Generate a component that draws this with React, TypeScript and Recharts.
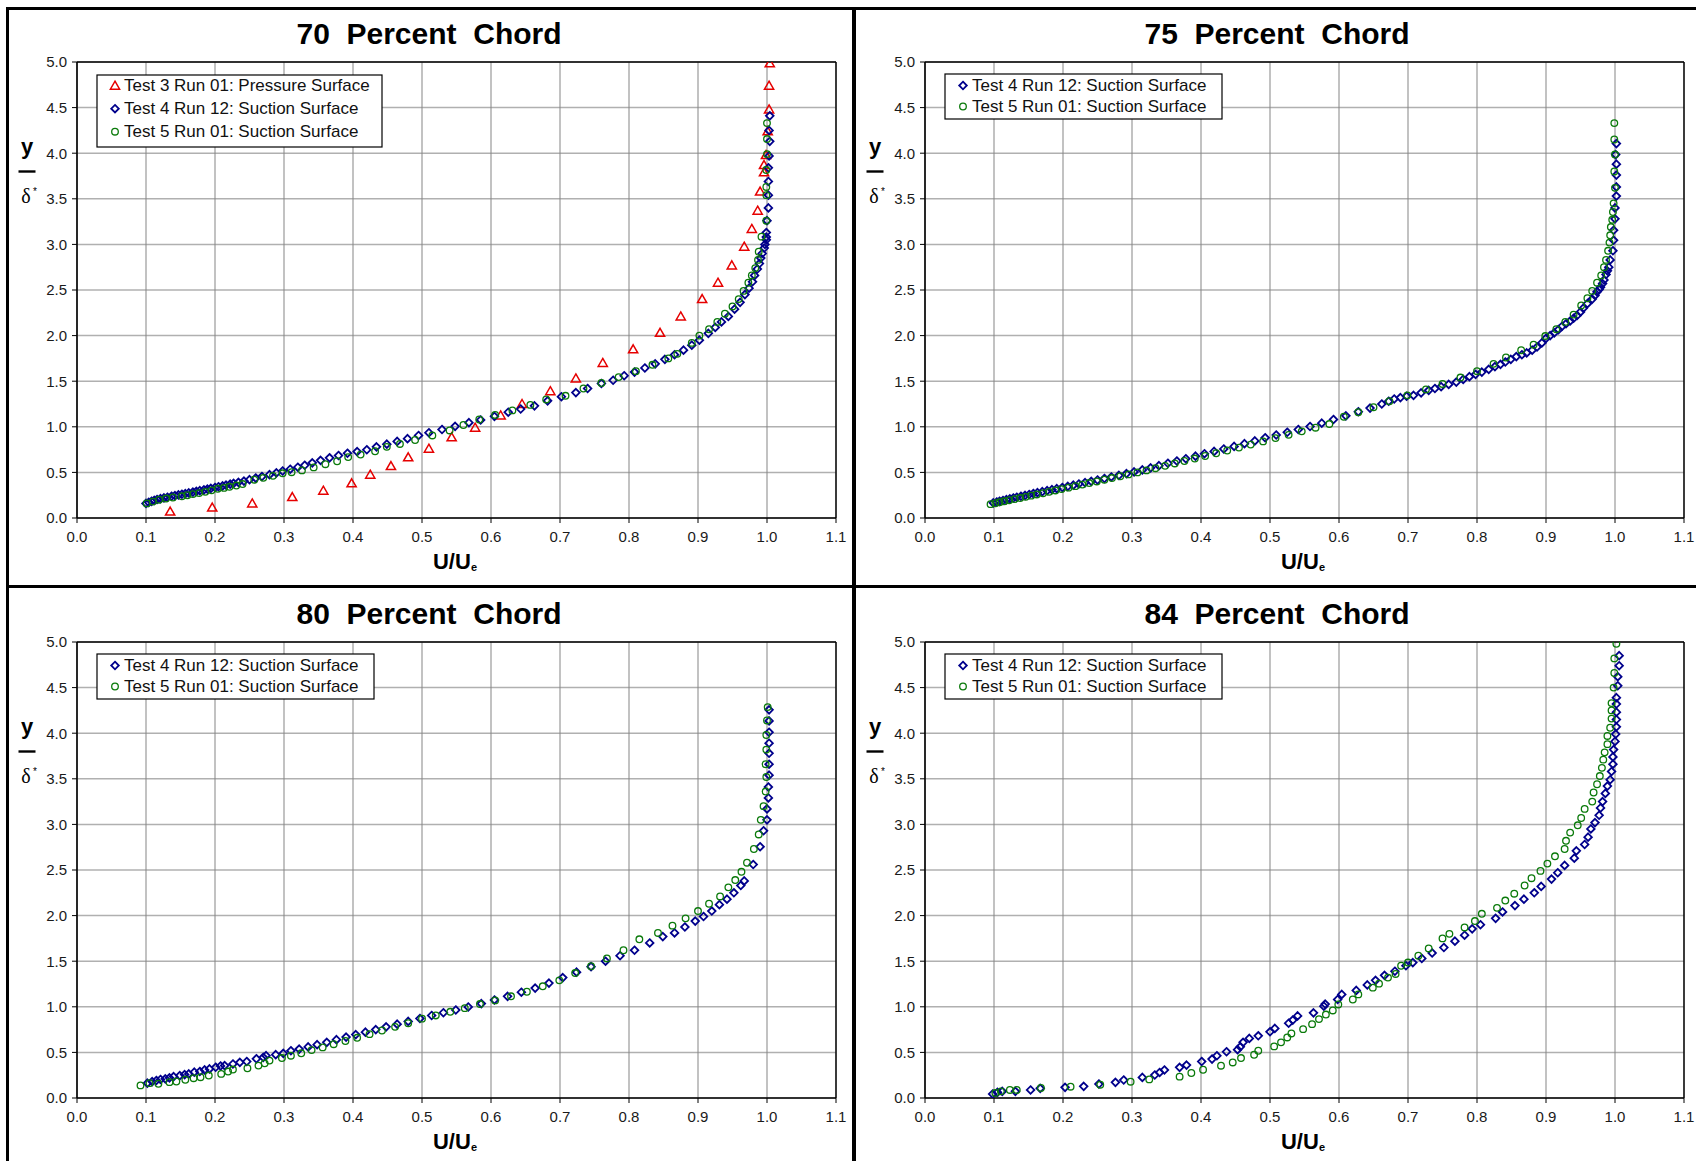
import React from 'react'
import { CartesianGrid, ReferenceLine, Scatter, ScatterChart, XAxis, YAxis } from 'recharts'

// axis ticks and labels
const xTicks = [0, 0.1, 0.2, 0.3, 0.4, 0.5, 0.6, 0.7, 0.8, 0.9, 1.0, 1.1]
const yTicks = [0, 0.5, 1.0, 1.5, 2.0, 2.5, 3.0, 3.5, 4.0, 4.5, 5.0]
const xMinorTicks = Array.from({ length: 56 }, (_, i) => +(i * 0.02).toFixed(2))
const yMinorTicks = Array.from({ length: 51 }, (_, i) => +(i * 0.1).toFixed(1))

const panelTitles = ['70  Percent  Chord', '75  Percent  Chord', '80  Percent  Chord', '84  Percent  Chord']
const test3Name = 'Test 3 Run 01: Pressure Surface'
const test4Name = 'Test 4 Run 12: Suction Surface'
const test5Name = 'Test 5 Run 01: Suction Surface'

// [U/Ue, y/delta*]
const chord70Test3 = [
  [0.135, 0.07], [0.196, 0.115], [0.254, 0.16], [0.312, 0.23], [0.357, 0.3], [0.398, 0.38],
  [0.425, 0.475], [0.455, 0.57], [0.48, 0.665], [0.51, 0.76], [0.543, 0.885], [0.577, 0.99],
  [0.614, 1.125], [0.645, 1.25], [0.686, 1.39], [0.723, 1.53], [0.762, 1.7], [0.806, 1.85],
  [0.845, 2.03], [0.875, 2.21], [0.906, 2.4], [0.929, 2.58], [0.949, 2.77], [0.967, 2.975],
  [0.978, 3.17], [0.9865, 3.37], [0.99, 3.58], [0.9957, 3.79], [0.9957, 3.87], [0.9986, 3.98],
  [1.001, 4.24], [1.003, 4.48], [1.003, 4.74], [1.004, 4.985],
]

const chord70Test4 = [
  [0.1, 0.16], [0.104, 0.172], [0.108, 0.183], [0.112, 0.193], [0.116, 0.203], [0.121, 0.212],
  [0.126, 0.22], [0.131, 0.228], [0.137, 0.238], [0.142, 0.246], [0.147, 0.253], [0.152, 0.26],
  [0.157, 0.267], [0.162, 0.275], [0.168, 0.284], [0.173, 0.292], [0.178, 0.3], [0.184, 0.309],
  [0.189, 0.317], [0.194, 0.325], [0.2, 0.335], [0.205, 0.343], [0.211, 0.352], [0.216, 0.361],
  [0.222, 0.371], [0.227, 0.38], [0.234, 0.391], [0.242, 0.405], [0.25, 0.42], [0.259, 0.438],
  [0.268, 0.455], [0.279, 0.475], [0.289, 0.495], [0.298, 0.515], [0.309, 0.535], [0.32, 0.557],
  [0.33, 0.578], [0.341, 0.605], [0.353, 0.632], [0.366, 0.66], [0.379, 0.685], [0.392, 0.71],
  [0.406, 0.728], [0.42, 0.748], [0.434, 0.78], [0.449, 0.81], [0.464, 0.84], [0.479, 0.87],
  [0.495, 0.905], [0.51, 0.935], [0.529, 0.97], [0.548, 1.005], [0.568, 1.045], [0.585, 1.075],
  [0.605, 1.115], [0.625, 1.16], [0.643, 1.195], [0.663, 1.23], [0.682, 1.285], [0.702, 1.33],
  [0.723, 1.375], [0.74, 1.42], [0.76, 1.475], [0.777, 1.51], [0.793, 1.56], [0.808, 1.6],
  [0.823, 1.645], [0.838, 1.69], [0.852, 1.74], [0.866, 1.79], [0.879, 1.84], [0.891, 1.895],
  [0.902, 1.95], [0.915, 2.025], [0.925, 2.09], [0.934, 2.15], [0.944, 2.21], [0.953, 2.29],
  [0.961, 2.365], [0.968, 2.45], [0.974, 2.52], [0.979, 2.59], [0.982, 2.66], [0.986, 2.73],
  [0.989, 2.79], [0.991, 2.85], [0.993, 2.9], [0.996, 2.96], [0.997, 3.0], [0.999, 3.05],
  [0.999, 3.08], [0.999, 3.13], [1.0, 3.26], [1.002, 3.4], [1.002, 3.54], [1.002, 3.69],
  [1.002, 3.84], [1.003, 3.97], [1.004, 4.13], [1.003, 4.25], [1.004, 4.41],
]

const chord70Test5 = [
  [0.101, 0.16], [0.11, 0.18], [0.119, 0.2], [0.129, 0.213], [0.139, 0.225], [0.152, 0.238],
  [0.16, 0.25], [0.168, 0.262], [0.177, 0.273], [0.186, 0.287], [0.195, 0.303], [0.204, 0.32],
  [0.213, 0.33], [0.221, 0.342], [0.231, 0.356], [0.24, 0.372], [0.257, 0.42], [0.27, 0.44],
  [0.284, 0.462], [0.298, 0.49], [0.311, 0.502], [0.326, 0.522], [0.343, 0.555], [0.36, 0.59],
  [0.377, 0.622], [0.393, 0.668], [0.411, 0.695], [0.432, 0.732], [0.449, 0.78], [0.468, 0.812],
  [0.49, 0.855], [0.515, 0.905], [0.54, 0.96], [0.56, 1.02], [0.583, 1.08], [0.606, 1.13],
  [0.631, 1.18], [0.657, 1.24], [0.68, 1.3], [0.708, 1.34], [0.734, 1.42], [0.76, 1.48],
  [0.785, 1.545], [0.81, 1.61], [0.834, 1.68], [0.857, 1.75], [0.87, 1.8], [0.891, 1.92],
  [0.902, 2.0], [0.916, 2.07], [0.928, 2.15], [0.939, 2.24], [0.95, 2.32], [0.959, 2.4],
  [0.966, 2.49], [0.973, 2.58], [0.978, 2.66], [0.983, 2.74], [0.987, 2.83], [0.988, 2.92],
  [0.992, 3.085], [0.999, 3.26], [0.999, 3.54], [0.999, 3.63], [0.999, 3.815], [1.0, 3.99],
  [1.0, 4.155], [1.0, 4.33],
]

const chord75Test4 = [
  [0.099, 0.166], [0.104, 0.175], [0.108, 0.183], [0.113, 0.192], [0.118, 0.201], [0.123, 0.21],
  [0.128, 0.219], [0.133, 0.228], [0.139, 0.238], [0.145, 0.248], [0.151, 0.258], [0.157, 0.268],
  [0.163, 0.278], [0.17, 0.289], [0.177, 0.3], [0.184, 0.311], [0.191, 0.322], [0.199, 0.334],
  [0.207, 0.347], [0.215, 0.36], [0.223, 0.373], [0.232, 0.388], [0.241, 0.402], [0.25, 0.417],
  [0.26, 0.433], [0.27, 0.45], [0.281, 0.468], [0.292, 0.487], [0.303, 0.505], [0.315, 0.527],
  [0.327, 0.55], [0.339, 0.574], [0.352, 0.6], [0.365, 0.625], [0.378, 0.65], [0.392, 0.678],
  [0.405, 0.705], [0.419, 0.73], [0.433, 0.757], [0.448, 0.785], [0.463, 0.815], [0.478, 0.845],
  [0.493, 0.88], [0.509, 0.91], [0.525, 0.94], [0.541, 0.97], [0.558, 1.003], [0.575, 1.04],
  [0.592, 1.08], [0.61, 1.12], [0.628, 1.165], [0.645, 1.205], [0.662, 1.25], [0.672, 1.28],
  [0.68, 1.305], [0.689, 1.32], [0.698, 1.335], [0.708, 1.345], [0.719, 1.372], [0.73, 1.4],
  [0.739, 1.42], [0.748, 1.44], [0.759, 1.465], [0.77, 1.49], [0.78, 1.52], [0.789, 1.55],
  [0.798, 1.575], [0.807, 1.6], [0.817, 1.63], [0.826, 1.66], [0.834, 1.685], [0.841, 1.71],
  [0.849, 1.74], [0.857, 1.77], [0.865, 1.79], [0.872, 1.81], [0.88, 1.84], [0.887, 1.875],
  [0.894, 1.92], [0.9, 1.97], [0.906, 2.0], [0.912, 2.03], [0.918, 2.065], [0.923, 2.1],
  [0.929, 2.13], [0.935, 2.16], [0.94, 2.19], [0.945, 2.22], [0.95, 2.26], [0.954, 2.3],
  [0.96, 2.35], [0.967, 2.4], [0.971, 2.44], [0.974, 2.48], [0.977, 2.505], [0.979, 2.53],
  [0.982, 2.57], [0.984, 2.61], [0.987, 2.67], [0.989, 2.71], [0.991, 2.75], [0.993, 2.83],
  [0.997, 2.93], [0.998, 3.045], [0.998, 3.155], [1.0, 3.28], [1.0, 3.4], [1.002, 3.53],
  [1.002, 3.63], [1.002, 3.76], [1.002, 3.88], [1.001, 3.985], [1.002, 4.105],
]

const chord75Test5 = [
  [0.095, 0.152], [0.102, 0.162], [0.108, 0.172], [0.115, 0.183], [0.122, 0.195], [0.13, 0.207],
  [0.138, 0.219], [0.146, 0.232], [0.154, 0.245], [0.162, 0.258], [0.171, 0.272], [0.18, 0.287],
  [0.189, 0.302], [0.198, 0.317], [0.208, 0.333], [0.218, 0.349], [0.228, 0.366], [0.238, 0.383],
  [0.249, 0.401], [0.26, 0.42], [0.271, 0.438], [0.283, 0.458], [0.295, 0.478], [0.308, 0.5],
  [0.321, 0.522], [0.334, 0.546], [0.348, 0.572], [0.362, 0.598], [0.376, 0.625], [0.391, 0.652],
  [0.406, 0.68], [0.422, 0.71], [0.438, 0.74], [0.455, 0.772], [0.472, 0.805], [0.49, 0.84],
  [0.508, 0.876], [0.527, 0.912], [0.546, 0.95], [0.566, 0.99], [0.586, 1.03], [0.607, 1.11],
  [0.628, 1.16], [0.65, 1.215], [0.673, 1.28], [0.699, 1.345], [0.726, 1.41], [0.75, 1.47],
  [0.776, 1.54], [0.8, 1.61], [0.824, 1.69], [0.842, 1.76], [0.864, 1.84], [0.882, 1.9],
  [0.899, 1.995], [0.915, 2.07], [0.928, 2.15], [0.94, 2.23], [0.951, 2.33], [0.96, 2.41],
  [0.967, 2.49], [0.974, 2.58], [0.98, 2.66], [0.984, 2.75], [0.987, 2.83], [0.99, 2.93],
  [0.992, 3.02], [0.993, 3.1], [0.994, 3.19], [0.996, 3.27], [0.997, 3.355], [0.998, 3.45],
  [1.0, 3.62], [0.999, 3.8], [1.0, 3.985], [0.999, 4.15], [0.999, 4.33],
]

const chord80Test4 = [
  [0.102, 0.163], [0.109, 0.18], [0.115, 0.192], [0.121, 0.203], [0.128, 0.21], [0.134, 0.221],
  [0.14, 0.235], [0.149, 0.246], [0.156, 0.257], [0.162, 0.264], [0.17, 0.283], [0.178, 0.29],
  [0.185, 0.308], [0.192, 0.319], [0.201, 0.337], [0.208, 0.351], [0.214, 0.355], [0.226, 0.373],
  [0.236, 0.391], [0.246, 0.4], [0.26, 0.43], [0.27, 0.446], [0.274, 0.464], [0.288, 0.475],
  [0.299, 0.49], [0.31, 0.518], [0.322, 0.536], [0.335, 0.56], [0.348, 0.585], [0.362, 0.61],
  [0.376, 0.64], [0.39, 0.668], [0.404, 0.695], [0.418, 0.722], [0.433, 0.75], [0.448, 0.78],
  [0.464, 0.81], [0.48, 0.84], [0.497, 0.872], [0.514, 0.905], [0.531, 0.935], [0.549, 0.965],
  [0.567, 0.998], [0.586, 1.035], [0.605, 1.075], [0.624, 1.115], [0.644, 1.16], [0.664, 1.205],
  [0.684, 1.26], [0.704, 1.32], [0.724, 1.38], [0.745, 1.44], [0.766, 1.5], [0.787, 1.56],
  [0.808, 1.62], [0.83, 1.7], [0.849, 1.77], [0.866, 1.81], [0.881, 1.875], [0.896, 1.94],
  [0.908, 1.99], [0.92, 2.05], [0.931, 2.12], [0.942, 2.18], [0.952, 2.25], [0.962, 2.33],
  [0.967, 2.38], [0.98, 2.56], [0.99, 2.755], [0.995, 2.93], [1.0, 3.05], [1.0, 3.17],
  [1.002, 3.29], [1.002, 3.41], [1.003, 3.54], [1.003, 3.66], [1.003, 3.78], [1.003, 3.89],
  [1.003, 4.01], [1.003, 4.135], [1.003, 4.256],
]

const chord80Test5 = [
  [0.092, 0.138], [0.105, 0.163], [0.118, 0.156], [0.134, 0.174], [0.144, 0.181], [0.157, 0.2],
  [0.169, 0.217], [0.179, 0.228], [0.191, 0.246], [0.209, 0.264], [0.219, 0.29], [0.226, 0.312],
  [0.247, 0.326], [0.263, 0.355], [0.272, 0.38], [0.279, 0.41], [0.297, 0.438], [0.31, 0.464],
  [0.325, 0.49], [0.34, 0.525], [0.356, 0.555], [0.372, 0.59], [0.389, 0.625], [0.406, 0.66],
  [0.424, 0.7], [0.442, 0.74], [0.461, 0.78], [0.48, 0.82], [0.5, 0.87], [0.52, 0.905],
  [0.541, 0.945], [0.562, 0.985], [0.584, 1.03], [0.606, 1.07], [0.629, 1.115], [0.652, 1.165],
  [0.675, 1.225], [0.699, 1.29], [0.722, 1.37], [0.745, 1.445], [0.768, 1.53], [0.792, 1.62],
  [0.815, 1.74], [0.842, 1.81], [0.863, 1.89], [0.882, 1.97], [0.9, 2.05], [0.916, 2.13],
  [0.932, 2.21], [0.944, 2.31], [0.954, 2.39], [0.963, 2.48], [0.971, 2.58], [0.981, 2.73],
  [0.988, 2.89], [0.991, 3.05], [0.995, 3.2], [0.998, 3.36], [0.999, 3.52], [0.998, 3.66],
  [0.999, 3.82], [0.999, 3.98], [1.0, 4.14], [1.001, 4.286],
]

const chord84Test4 = [
  [0.098, 0.044], [0.105, 0.062], [0.112, 0.073], [0.131, 0.073], [0.153, 0.088], [0.167, 0.106],
  [0.203, 0.117], [0.23, 0.128], [0.252, 0.153], [0.276, 0.172], [0.288, 0.197], [0.315, 0.226],
  [0.333, 0.252], [0.34, 0.28], [0.347, 0.307], [0.369, 0.336], [0.379, 0.361], [0.401, 0.4],
  [0.416, 0.427], [0.423, 0.463], [0.437, 0.507], [0.453, 0.53], [0.457, 0.562], [0.461, 0.61],
  [0.47, 0.653], [0.483, 0.682], [0.5, 0.726], [0.507, 0.763], [0.527, 0.82], [0.533, 0.854],
  [0.54, 0.9], [0.563, 0.934], [0.578, 1.007], [0.58, 1.03], [0.598, 1.08], [0.604, 1.136],
  [0.625, 1.18], [0.641, 1.24], [0.653, 1.29], [0.666, 1.345], [0.681, 1.39], [0.697, 1.45],
  [0.707, 1.485], [0.72, 1.53], [0.735, 1.59], [0.752, 1.65], [0.768, 1.72], [0.782, 1.785],
  [0.793, 1.855], [0.805, 1.9], [0.827, 1.97], [0.837, 2.04], [0.855, 2.11], [0.868, 2.18],
  [0.883, 2.25], [0.893, 2.32], [0.908, 2.4], [0.917, 2.47], [0.927, 2.55], [0.941, 2.63],
  [0.944, 2.71], [0.956, 2.78], [0.961, 2.86], [0.965, 2.95], [0.971, 3.02], [0.977, 3.1],
  [0.979, 3.18], [0.982, 3.25], [0.986, 3.34], [0.989, 3.42], [0.993, 3.49], [0.995, 3.58],
  [0.997, 3.66], [0.997, 3.74], [0.998, 3.82], [1.0, 3.91], [1.001, 3.99], [1.002, 4.07],
  [1.002, 4.15], [1.002, 4.23], [1.002, 4.32], [1.002, 4.39], [1.004, 4.52], [1.004, 4.62],
  [1.006, 4.74], [1.006, 4.85],
]

const chord84Test5 = [
  [0.102, 0.055], [0.11, 0.073], [0.123, 0.088], [0.133, 0.088], [0.168, 0.11], [0.211, 0.124],
  [0.254, 0.146], [0.298, 0.179], [0.325, 0.204], [0.369, 0.234], [0.386, 0.274], [0.403, 0.31],
  [0.429, 0.354], [0.446, 0.39], [0.458, 0.438], [0.477, 0.474], [0.483, 0.518], [0.506, 0.566],
  [0.516, 0.61], [0.525, 0.664], [0.531, 0.708], [0.548, 0.755], [0.561, 0.81], [0.571, 0.865],
  [0.581, 0.915], [0.591, 0.96], [0.599, 1.026], [0.62, 1.08], [0.628, 1.136], [0.649, 1.21],
  [0.658, 1.254], [0.671, 1.32], [0.682, 1.36], [0.69, 1.45], [0.7, 1.485], [0.715, 1.56],
  [0.73, 1.64], [0.75, 1.75], [0.76, 1.8], [0.782, 1.87], [0.797, 1.94], [0.807, 2.02],
  [0.829, 2.085], [0.841, 2.165], [0.854, 2.24], [0.869, 2.33], [0.879, 2.41], [0.892, 2.49],
  [0.902, 2.57], [0.913, 2.65], [0.927, 2.73], [0.929, 2.82], [0.935, 2.91], [0.946, 2.99],
  [0.951, 3.07], [0.956, 3.17], [0.967, 3.25], [0.969, 3.35], [0.974, 3.44], [0.978, 3.53],
  [0.981, 3.62], [0.983, 3.71], [0.985, 3.79], [0.989, 3.88], [0.989, 3.97], [0.993, 4.06],
  [0.995, 4.16], [0.995, 4.25], [0.995, 4.33], [0.998, 4.5], [0.999, 4.66], [0.999, 4.82],
  [1.002, 4.98],
]

type Kind = 'triangle' | 'diamond' | 'circle'
interface SeriesDef {
  name: string
  kind: Kind
  points: number[][]
}

const COLORS: Record<Kind, string> = { triangle: '#e60000', diamond: '#00008c', circle: '#0a7a0a' }
const SANS = '"Liberation Sans", Arial, Helvetica, sans-serif'
const SERIF = '"Liberation Serif", "DejaVu Serif", serif'

const Marker = ({ kind, cx, cy }: { kind: Kind; cx: number; cy: number }) => {
  if (kind === 'triangle') {
    return (
      <path
        d={`M${cx},${cy - 4.5}L${cx + 4.6},${cy + 3.5}L${cx - 4.6},${cy + 3.5}Z`}
        fill='none'
        stroke={COLORS.triangle}
        strokeWidth={1.5}
      />
    )
  }
  if (kind === 'diamond') {
    return (
      <path
        d={`M${cx},${cy - 3.8}L${cx + 3.8},${cy}L${cx},${cy + 3.8}L${cx - 3.8},${cy}Z`}
        fill='none'
        stroke={COLORS.diamond}
        strokeWidth={1.8}
      />
    )
  }
  return <circle cx={cx} cy={cy} r={3.3} fill='none' stroke={COLORS.circle} strokeWidth={1.3} />
}

const fmt = (v: number) => v.toFixed(1)

const W = 848
const H = 580

interface PanelProps {
  title: string
  series: SeriesDef[]
  left: number
  top: number
}

const Panel: React.FC<PanelProps> = ({ title, series, left, top }) => {
  const big = series.length === 3
  const legend = big
    ? { top: 75, w: 285, h: 72, first: 15.7, rowH: 23 }
    : { top: 74, w: 277, h: 45, first: 16.5, rowH: 21 }
  return (
    <div style={{ position: 'absolute', left, top, width: W, height: H }}>
      <ScatterChart width={W} height={H} margin={{ top: 62, right: 12, bottom: 32, left: 32 }}>
        <CartesianGrid vertical={false} stroke='#b0b0b0' strokeWidth={1.5} />
        <CartesianGrid horizontal={false} stroke='#858585' strokeWidth={1} />
        <XAxis
          type='number'
          dataKey='x'
          domain={[0, 1.1]}
          ticks={xTicks}
          interval={0}
          allowDataOverflow
          height={30}
          tickSize={5}
          tickMargin={8}
          tickFormatter={fmt}
          axisLine={{ stroke: '#000', strokeWidth: 1.6 }}
          tickLine={{ stroke: '#000' }}
          tick={{ fill: '#1a1a1a', fontSize: 15 }}
        />
        <XAxis
          xAxisId='minor'
          type='number'
          domain={[0, 1.1]}
          ticks={xMinorTicks}
          interval={0}
          allowDataOverflow
          mirror
          height={1}
          tick={false}
          tickSize={3}
          axisLine={false}
          tickLine={{ stroke: '#000' }}
        />
        <YAxis
          type='number'
          dataKey='y'
          domain={[0, 5]}
          ticks={yTicks}
          interval={0}
          allowDataOverflow
          width={45}
          tickSize={5}
          tickMargin={5}
          tickFormatter={fmt}
          axisLine={{ stroke: '#000', strokeWidth: 1.6 }}
          tickLine={{ stroke: '#000' }}
          tick={{ fill: '#1a1a1a', fontSize: 15 }}
        />
        <YAxis
          yAxisId='minor'
          type='number'
          domain={[0, 5]}
          ticks={yMinorTicks}
          interval={0}
          allowDataOverflow
          mirror
          width={1}
          tick={false}
          tickSize={3}
          axisLine={false}
          tickLine={{ stroke: '#000' }}
        />
        <ReferenceLine y={5} stroke='#000' strokeWidth={1.4} />
        <ReferenceLine x={1.1} stroke='#000' strokeWidth={1.4} />
        {series.map((s) => (
          <Scatter
            key={s.name}
            name={s.name}
            data={s.points.map(([x, y]) => ({ x, y }))}
            isAnimationActive={false}
            shape={(p: any) => <Marker kind={s.kind} cx={p.cx} cy={p.cy} />}
          />
        ))}
      </ScatterChart>
      <svg
        width={W}
        height={H}
        style={{ position: 'absolute', left: 0, top: 0, pointerEvents: 'none', fontFamily: SANS }}
      >
        <text x={429} y={44} textAnchor='middle' fontSize={30} fontWeight='bold' style={{ whiteSpace: 'pre' }}>
          {title}
        </text>
        <text x={455} y={569} textAnchor='middle' fontSize={22} fontWeight='bold'>
          U/U
          <tspan fontSize={11} dy={2}>
            e
          </tspan>
        </text>
        <text x={27} y={154} textAnchor='middle' fontSize={22} fontWeight='bold'>
          y
        </text>
        <line x1={18.5} x2={35.5} y1={171.5} y2={171.5} stroke='#000' strokeWidth={2.4} />
        <text x={26} y={203} textAnchor='middle' fontSize={20} fontFamily={SERIF}>
          δ
        </text>
        <text x={33} y={195} fontSize={10}>
          *
        </text>
        <g transform={`translate(97, ${legend.top})`}>
          <rect x={0} y={0} width={legend.w} height={legend.h} fill='#fff' stroke='#000' strokeWidth={1.2} />
          {series.map((s, i) => (
            <g key={s.name}>
              <Marker kind={s.kind} cx={18} cy={legend.first + i * legend.rowH - 5} />
              <text x={27} y={legend.first + i * legend.rowH} fontSize={17} fill='#111'>
                {s.name}
              </text>
            </g>
          ))}
        </g>
      </svg>
    </div>
  )
}

const panels: { title: string; series: SeriesDef[]; left: number; top: number }[] = [
  {
    title: panelTitles[0],
    left: 0,
    top: 0,
    series: [
      { name: test3Name, kind: 'triangle', points: chord70Test3 },
      { name: test4Name, kind: 'diamond', points: chord70Test4 },
      { name: test5Name, kind: 'circle', points: chord70Test5 },
    ],
  },
  {
    title: panelTitles[1],
    left: 848,
    top: 0,
    series: [
      { name: test4Name, kind: 'diamond', points: chord75Test4 },
      { name: test5Name, kind: 'circle', points: chord75Test5 },
    ],
  },
  {
    title: panelTitles[2],
    left: 0,
    top: 580,
    series: [
      { name: test4Name, kind: 'diamond', points: chord80Test4 },
      { name: test5Name, kind: 'circle', points: chord80Test5 },
    ],
  },
  {
    title: panelTitles[3],
    left: 848,
    top: 580,
    series: [
      { name: test4Name, kind: 'diamond', points: chord84Test4 },
      { name: test5Name, kind: 'circle', points: chord84Test5 },
    ],
  },
]

export default function App() {
  return (
    <div
      style={{
        position: 'absolute',
        left: 0,
        top: 0,
        width: 1696,
        height: 1161,
        background: '#fff',
        overflow: 'hidden',
        fontFamily: SANS,
      }}
    >
      {panels.map((p) => (
        <Panel key={p.title} {...p} />
      ))}
      <div style={{ position: 'absolute', left: 6, top: 7, width: 1690, height: 2.5, background: '#000' }} />
      <div style={{ position: 'absolute', left: 6, top: 7, width: 2.5, height: 1154, background: '#000' }} />
      <div style={{ position: 'absolute', left: 852, top: 7, width: 4, height: 1154, background: '#000' }} />
      <div style={{ position: 'absolute', left: 6, top: 585, width: 1690, height: 3, background: '#000' }} />
    </div>
  )
}
